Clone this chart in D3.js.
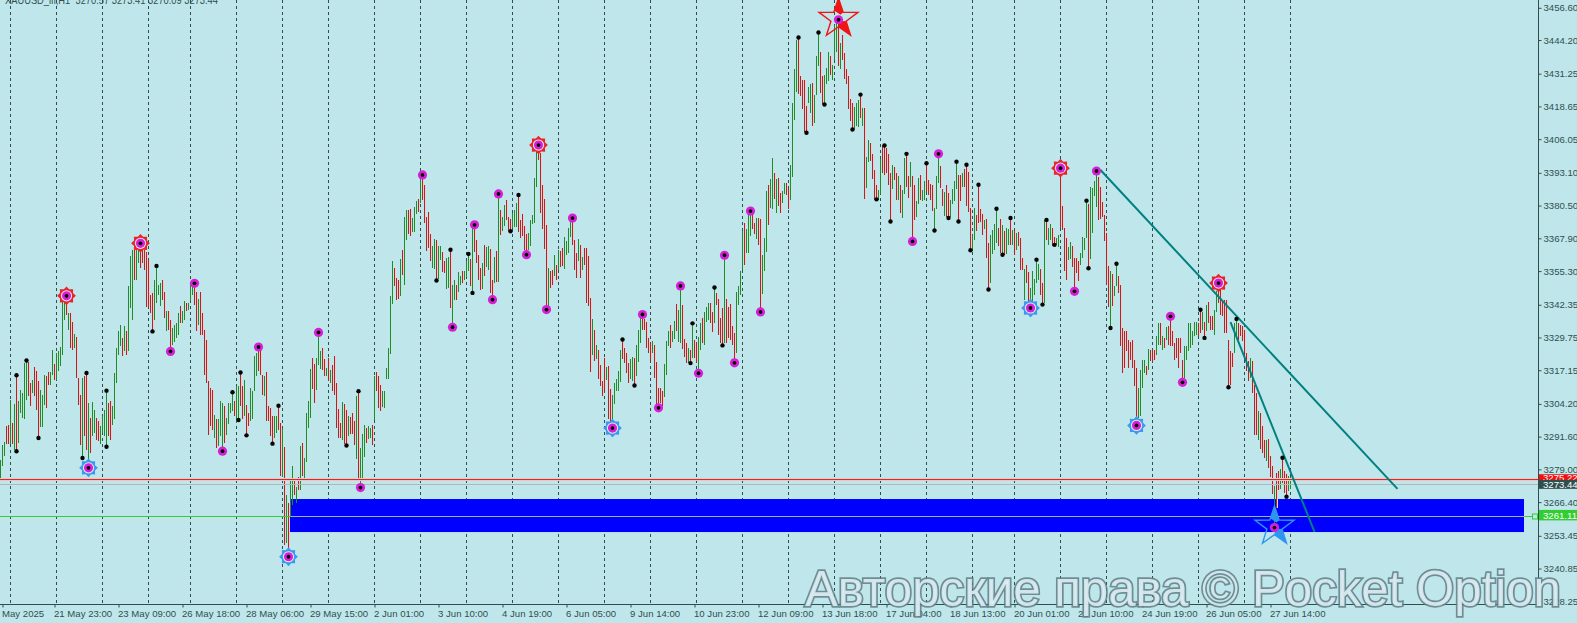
<!DOCTYPE html>
<html><head><meta charset="utf-8">
<script src="https://cdn.jsdelivr.net/npm/d3@7"></script>
<style>html,body{margin:0;padding:0;background:#bfe7eb;overflow:hidden}svg{display:block}</style>
</head><body><svg id="c" width="1577" height="623"></svg>
<script>
const highs=[
3282.8,3288.2,3289.7,3295.6,3295.9,3305.8,3296.9,3304.3,3315.2,3305.2,
3309.7,3308.4,3319.9,3320.9,3320.3,3312.2,3313.5,3318.4,3316.7,3312.9,
3309.7,3307.8,3315.4,3314.8,3316.5,3316.5,3325,3319.7,3323.8,3324.4,
3326.1,3343.6,3345.5,3345.8,3339.1,3339.1,3335.9,3331.2,3329.9,3314.2,
3307.8,3314.2,3314.8,3316.1,3304.6,3298.8,3304.8,3302,3298.8,3297.5,
3295.6,3299.4,3302,3309.3,3304.6,3305.2,3303.3,3316.1,3325.7,3332.1,
3334.6,3329.5,3334.3,3332.1,3349.4,3361,3363.4,3363.4,3365.3,3366,
3366,3364.3,3363.4,3362.6,3359.6,3346.2,3346.8,3351.9,3357.3,3350,
3350.6,3351.9,3347.4,3339.8,3339.8,3336.6,3333.4,3334.6,3335.3,3339.1,
3341.7,3339.8,3343.6,3343.2,3343,3350,3351.3,3350.6,3347.4,3344.5,
3347.4,3339.1,3332.7,3328.9,3312.9,3310.3,3309.7,3300.1,3298.2,3298.2,
3305.2,3304.6,3303.3,3298.8,3304.6,3304.6,3308.7,3305.2,3311,3311,
3316.3,3311,3313.5,3303.9,3300.7,3310.3,3309,3322.5,3323.8,3326.1,
3325,3315.2,3314.8,3316.3,3303.3,3302.6,3299.4,3299.4,3299.4,3303.5,
3296.9,3294.6,3287.7,3269.1,3266,3274.9,3280.3,3274.9,3272.3,3276.1,
3288,3289.2,3283.5,3300.8,3305.5,3317.7,3321.9,3319.7,3321.9,3331.7,
3324.7,3325.7,3321.5,3318,3321.9,3317.4,3319,3322.5,3312.3,3302.3,
3296.9,3304.9,3304,3301.8,3299.5,3299.2,3300.8,3297.6,3307.2,3309.1,
3287.3,3292.8,3295.9,3295,3295.6,3295,3295.9,3315.1,3316.4,3315.1,
3311.6,3309.1,3309.1,3318,3325.7,3345.6,3359,3356.4,3352.6,3352,
3359.9,3363.5,3376.3,3378.9,3378.9,3379.1,3375.6,3380.1,3382.4,3383,
3392.3,3392.3,3388.4,3376.3,3378.2,3369.6,3365,3367.6,3367.1,3364.8,
3365,3362.8,3359,3360.3,3360.9,3363.5,3350,3351.7,3350,3354.8,
3353.5,3355.5,3355.5,3359,3361.9,3359.9,3373.1,3373.1,3367.3,3361.6,
3356.5,3358.4,3365.4,3364.5,3365,3363.8,3352,3360.9,3362.9,3385,
3378.9,3376,3380.8,3382.5,3376,3375.3,3377.6,3378.9,3381.4,3384.6,
3375,3377.3,3372.5,3369.7,3369.9,3374.8,3377,3391,3401.3,3403.8,
3400.6,3388.5,3383,3373.1,3356.5,3355.2,3355.8,3361.6,3357.8,3363.5,
3362.9,3364.2,3368.4,3366.7,3371.8,3375,3375.7,3367.1,3362.2,3367.6,
3365.4,3360.7,3364.2,3364.2,3361,3345,3336.9,3332.8,3327,3325.1,
3319,3313,3321.9,3318.5,3318.7,3309.8,3307.8,3312.3,3313.6,3316.8,
3325.1,3329,3325.8,3323.6,3320,3321.5,3322.3,3321.9,3327,3332.8,
3337.3,3338.6,3336.9,3335.6,3329.6,3327.7,3328.3,3327,3320.3,3310.4,
3310.4,3309.1,3319.4,3328.3,3332.2,3334.7,3332.2,3336,3342.8,3340.5,
3349.6,3342.3,3329.2,3327.6,3325.6,3325,3335.2,3328.8,3327.6,3330.1,
3335.2,3337.2,3339.7,3341.6,3342.9,3342.9,3339.7,3349,3346.8,3344.6,
3337.2,3341,3361.4,3344.6,3341.3,3342.5,3334.3,3331.4,3347.2,3349.6,
3355.4,3370.7,3373.7,3371.4,3376.7,3378.4,3376.7,3373.9,3375.9,3375.9,
3375.5,3361.4,3368.2,3386.1,3388.6,3390.6,3398.9,3393.1,3390.6,3391.2,
3385.4,3386.1,3389.3,3389,3386.7,3396.3,3420,3433,3444.3,3445.2,
3430.5,3429,3428.7,3419,3426.2,3427.1,3427.7,3423.2,3438.2,3447.1,
3439.5,3430.5,3430.9,3433.4,3439.5,3438.2,3434.7,3450.1,3452,3452,
3443,3446.2,3439.2,3433.1,3430.5,3421.5,3419.8,3418.5,3419.8,3421.3,
3423.2,3418.1,3418.1,3399.2,3405.8,3404.7,3400.4,3394.2,3388.5,3386.6,
3398.3,3403.8,3403.6,3402.6,3400.4,3393,3396.2,3395.3,3393,3391.9,
3388.5,3386.6,3398.7,3400.4,3391.7,3397.4,3391.9,3388.5,3382.1,3391,
3392.3,3386.6,3389.8,3396.8,3390.4,3388.9,3388.5,3379.5,3391.7,3400.4,
3395.8,3386.8,3385.9,3388.5,3385.5,3382.5,3386.8,3389.8,3397.4,3392.3,
3392.3,3393,3394.5,3396.2,3393.6,3379.5,3369.3,3379.5,3377,3388.5,
3379.1,3377.3,3375,3375.3,3366.1,3369.3,3371.2,3373.5,3379.3,3371.8,
3375.3,3373.1,3370.6,3371.8,3371.5,3375.7,3371.2,3370.6,3369.9,3370.2,
3368,3360.3,3356.1,3357.8,3354.8,3348.8,3355.2,3352.3,3359.7,3358.1,
3356.1,3350.7,3375,3375,3371.8,3373.5,3371.8,3368.6,3368,3369.3,
3394.9,3380.4,3371.8,3367.9,3364.5,3366.3,3364.8,3360.3,3360.3,3359,
3362.2,3368.6,3367.9,3382.4,3381.2,3387.6,3387.2,3390.1,3393.8,3391.4,
3387.8,3382,3376.9,3370.1,3357.3,3355.2,3354.3,3349.7,3358.1,3353.5,
3350,3333.4,3332.1,3332.1,3328.9,3327.9,3328.9,3321.2,3318,3310.4,
3317.4,3321.2,3321.2,3318.9,3325.3,3325.1,3325.1,3325.1,3330.2,3335.3,
3335.3,3330.2,3329.6,3333.8,3334,3337.9,3332.1,3327.6,3329.6,3329.6,
3329.6,3321.2,3326.4,3326.4,3335.3,3335.3,3332.1,3335.9,3335.9,3335.3,
3340.4,3339.4,3335.9,3342.4,3343.3,3337.9,3338,3340.4,3347.5,3350.7,
3348.8,3344.3,3344.3,3344,3328.9,3324.4,3323.8,3335.3,3336.9,3335.3,
3334.7,3334,3332.1,3323.8,3320.6,3321.9,3320.6,3311.6,3308.5,3301.4,
3300.8,3295.7,3290.5,3290.5,3290.8,3284.1,3280.3,3272.6,3277.7,3278.4,
3279,3283.5,3278.4,3277.1,3276.5,3276];
const lows=[
3275.1,3280.2,3284.1,3288.6,3288.8,3288.6,3288.6,3286.6,3286,3289.2,
3300.7,3298.8,3298.2,3305.8,3307.4,3303.5,3308.4,3307.1,3302,3291.1,
3295.2,3295.2,3303.9,3302.6,3311.6,3311.6,3315.4,3313.5,3313.5,3317,
3318.6,3323.1,3336.3,3338.5,3332.5,3325.7,3324.8,3325.7,3314.2,3303.9,
3288.2,3283.4,3291.8,3286.6,3279.6,3285.4,3291.8,3293,3290.5,3289.8,
3288.9,3293,3291.8,3287.7,3291.8,3290.5,3296.2,3298.2,3312.2,3323.1,
3326.3,3322.5,3324.4,3323.1,3324.4,3341,3336.6,3351.9,3351.9,3358.5,
3356.5,3358.5,3355.7,3341.5,3341.3,3339.1,3332.1,3336.6,3343,3346.2,
3341.7,3344.2,3337.2,3332.1,3332.7,3324.4,3327,3328.2,3329.5,3330.8,
3335.3,3335.5,3336.6,3339.8,3340.4,3343.6,3346.2,3342.3,3332.1,3334.6,
3330.8,3330.8,3315.4,3312.2,3292.4,3295.6,3294.3,3291.1,3287.3,3287.9,
3291.8,3286,3289.2,3292.4,3296.6,3300.7,3301.4,3299.4,3296.9,3298,
3303.3,3298.2,3299.4,3292.1,3295.6,3297.5,3298.2,3309,3315,3316.7,
3315.4,3307.8,3307.1,3297.5,3297.5,3291.8,3288.9,3291.1,3293,3294.3,
3276.4,3276,3249.9,3250.7,3245.4,3260.7,3265.3,3269.1,3266,3271,
3271,3276.4,3275.8,3281.8,3295,3298.9,3310,3304.4,3309.7,3319.3,
3317.7,3317.4,3315.1,3314.8,3312.9,3312.3,3309.1,3307.8,3295,3291.2,
3291.2,3290.5,3288.6,3288.2,3291.8,3292.5,3292.5,3288.2,3282.9,3275.4,
3272,3275.8,3283.9,3289.2,3290.8,3291.2,3288.2,3298,3309.1,3302.7,
3301.4,3303.1,3302.7,3313.6,3313.8,3323.5,3342.8,3349.7,3344.3,3344.5,
3345.8,3353.9,3350,3367.3,3369.6,3368.9,3370.5,3370.5,3377.3,3378.2,
3381.4,3382.7,3373.7,3363.2,3364.1,3359,3356.4,3356.1,3351.7,3352.2,
3359.4,3354.8,3354.5,3348.4,3348.8,3341.1,3333.7,3344,3344.3,3347.1,
3350,3350.7,3352,3353.2,3355.2,3349.4,3346.9,3362.5,3358.4,3352,
3347.9,3348.4,3353.3,3356.9,3355.8,3346.9,3344.3,3350.7,3351,3351,
3369.3,3370.6,3372.5,3374.8,3370.6,3370.6,3371.8,3372.2,3372.2,3370.2,
3368,3368.9,3363.3,3361.6,3363.5,3365,3373.5,3373.8,3387.8,3398,
3377.6,3371.5,3363.8,3340.5,3341.1,3348.8,3350.1,3353.3,3351.7,3355.8,
3356.9,3357.1,3356.1,3361.6,3362.2,3368.6,3365.4,3355.8,3352.6,3359,
3352.6,3355.6,3357.8,3343,3342,3316.4,3323.2,3320.6,3321.3,3313.6,
3311,3307.2,3309.1,3313.3,3298.2,3297,3294.9,3304,3309.1,3309.1,
3312.6,3321.3,3320,3316.2,3312.3,3313.6,3313,3311.3,3314.9,3320.3,
3327.7,3332.8,3332.8,3325.8,3323.8,3321,3323.6,3314.2,3302.7,3302.7,
3304.6,3303.4,3306.9,3315.5,3326.4,3325.8,3327.9,3329,3332.2,3327.9,
3327.6,3325.4,3322.4,3319.9,3319.9,3319.9,3321.8,3321.8,3320.5,3316,
3325,3327.6,3326.9,3335.9,3336.5,3335.2,3332,3335.2,3342.3,3330.8,
3327.6,3326.7,3327.6,3327.6,3329.5,3328.8,3326.9,3320,3323.7,3342.2,
3346,3355.7,3357.5,3362.4,3362.4,3368.8,3371.4,3369.4,3367.5,3365.2,
3339.6,3346.4,3355.4,3362.7,3372.9,3379.7,3379.3,3382.9,3377.5,3380.3,
3377.8,3381.6,3384.8,3384.4,3379,3382.6,3391.5,3413.6,3424.1,3423.6,
3422.6,3417.7,3408.7,3408.5,3419.8,3416.2,3411.3,3412.3,3423.2,3434.1,
3423.9,3419.4,3419.4,3427.4,3428.3,3430.9,3428.7,3436.7,3439.5,3434.1,
3433.1,3436.7,3429.2,3427.1,3417.7,3413,3409.8,3409.8,3411,3410.8,
3414.2,3411,3383.1,3387.3,3397.2,3397.6,3390.9,3383.2,3382.9,3382.8,
3385,3393,3392.3,3393,3388.5,3374.4,3386.8,3390.4,3382.7,3382.7,
3377.6,3375.7,3385,3387.8,3383.4,3387.8,3366.7,3375,3376.1,3381.2,
3382.5,3382.1,3382.7,3385.9,3384.6,3382.7,3378.6,3370.9,3379.1,3389.1,
3387.2,3380.2,3376.6,3376.1,3375.7,3376.1,3381.2,3382.1,3386.8,3374.4,
3382.1,3387.8,3387.6,3380.2,3378.2,3363.3,3362.9,3367.1,3370.6,3373.8,
3374,3369.3,3371.5,3360.3,3348.2,3350.7,3362,3363.3,3366.1,3364.8,
3362.2,3361.6,3361.6,3362,3365.4,3365.4,3365.4,3361.6,3363.5,3364.8,
3355.8,3355.8,3344.3,3350.7,3343,3341.1,3343,3346.2,3350.7,3352,
3346.2,3342.4,3343,3367.4,3365.4,3367.4,3365,3365.4,3365.4,3364.5,
3371.8,3371.2,3355.2,3351.7,3359.6,3359.9,3356.8,3347.5,3354.5,3351.3,
3357.7,3360.3,3363.5,3367.9,3356.4,3359.9,3369.9,3384.2,3380.1,3375,
3375.3,3376.3,3366.7,3350,3341.5,3333.4,3342,3345.6,3349.4,3346.9,
3326.4,3316.1,3318,3324.4,3318,3321.2,3318,3311,3295.9,3298.8,
3299.5,3310.4,3316.1,3315.5,3317.2,3320.6,3320.6,3321.2,3323.2,3327,
3327,3325.1,3325.7,3328.9,3327,3326.6,3326.4,3321.2,3321.9,3318,
3323.8,3312.5,3314.2,3321.2,3324.4,3325.7,3327,3330.2,3330.8,3330.2,
3331.5,3332.8,3329.6,3332.1,3335.3,3332.8,3332.8,3330.8,3339.4,3343,
3338.5,3337.9,3331.5,3331.5,3310.6,3311.6,3318.4,3323.8,3330.2,3328.9,
3330.2,3328.3,3321.2,3316.8,3312.9,3314.2,3308.5,3292.4,3292.4,3290.5,
3286.7,3285.4,3283.5,3282.2,3279.6,3276.2,3269.4,3256.6,3264.3,3271,
3271.3,3273.9,3270,3268.5,3270.7,3271.5];
const dirs=[
"GGGRRGRGRG","GGGGRRGRRR","GGGRRGGRGG","GGGRGRRGRR","RGRRGRGGRR","GGGGRRGGGG","GRGRGGGRGG","RRRRRRRGGG",
"GRRGRRGGGG","RGGRGGGRRG","RRRRRRRGRG","GGRGGGGRGG","RRGRRGGGGR","RRGRRRRGGR","RGRGRGGRGR","GRGGGGRRGG",
"GRRGRGRRRR","RGRRGRRRGR","GGGRGGRGRR","RGGGGGGRRR","GRGGRRGGGR","GRRRRRGGRG","GRRGGRGGRG","GRGGGRGRRR",
"RGRGGRRGRG","RGGRRRGGGR","RRRRGGGGGR","RRRRGRRGRG","RRGGGGRRRG","RGRRRRGRGR","RRRGRRGGGG","GRRRRGGRGG",
"GRRRRRGRRR","RRGGGRGGRG","GRRRGRGRRG","GRGGGRRGRR","RRGRRRRRGG","GGRGGGRRGR","RGGGRGGRGR","RGGRRGGGGR",
"RRRRGGRGGG","RRGGGRGGGR","GRRRRRRGGG","RGRGGRRRRG","GRRRRRGRRG","RGGRRGRRGG","RGGRRRRGGG","RRGRRGGGGR",
"RGRRRRGGRR","RRGRRGGGGR","RGRGGRGRGR","RRGRRGGGGG","RRGRGGRRGG","RRRRGGRRRR","GGGGRGGGGR","RRRRRGRGGR",
"RRRRRRRRRG","GGGRGRRRGG","RGRGRRRRRR","RRGGGGGGGR","RGRGRRRGGR","RRRRRRRGGR","RRRRRGRRRG","RRRGRRRGRR",
"GRRRGG"].join("");

const priceTicks=[3456.60,3444.20,3431.25,3418.65,3406.05,3393.10,3380.50,3367.90,3355.30,3342.35,3329.75,3317.15,3304.20,3291.60,3279.00,3266.40,3253.45,3240.85,3228.25];
const timeTickIdx=[1,27,59,91,123,155,187,219,251,283,315,347,379,411,443,475,507,539,571,603,635];
const timeLabels=["May 2025","21 May 23:00","23 May 09:00","26 May 18:00","28 May 06:00","29 May 15:00","2 Jun 01:00","3 Jun 10:00","4 Jun 19:00","6 Jun 05:00","9 Jun 14:00","10 Jun 23:00","12 Jun 09:00","13 Jun 18:00","17 Jun 04:00","18 Jun 13:00","20 Jun 01:00","23 Jun 10:00","24 Jun 19:00","26 Jun 05:00","27 Jun 14:00"];
const gridIdx=[5,28,51,74,95,118,141,164,187,210,233,256,279,302,325,348,371,394,417,440,463,486,507,530,553,576,599,622,645];

const blackHigh=[8,13,43,53,78,116,120,139,179,225,234,259,311,346,357,399,409,430,442,453,463,478,483,489,498,505,518,523,543,558,600,618,641];
const blackLow=[8,19,41,53,76,119,123,136,173,218,236,255,317,345,361,403,412,426,438,445,467,474,479,485,494,501,521,527,544,555,602,614,643];
const magentaHigh=[97,129,159,211,237,249,286,321,340,362,375,469,548,585];
const magentaLow=[85,111,180,226,246,263,273,329,349,367,380,456,537,591];
const redSunHigh=[33,70,269,419,530,609];
const blueSunLow=[44,144,306,515,568];
const redStarBar=419, blueStarBar=637;

const zoneBars=[145,762], zonePrices=[3267.6,3254.9];
const sellLine=3275.22, bidLine=3273.44, greenLine=3261.11;
const trendA=[[550,3394.2],[698.5,3271.5]], trendB=[[615,3335.7],[657,3255]];
const titleText="XAUUSD_ifi,H1  3270.57 3273.41 3270.09 3273.44";
const wmText="Авторские права © Pocket Option";

const W=1577,H=623,axisX=1538,axisY=604;
const FONT="'Liberation Sans',sans-serif", INK="#2f4f4f";
const x=d3.scaleLinear().domain([0,645]).range([0.5,1290.5]);
const y=d3.scaleLinear().domain([3228.25,3456.6]).range([601.3,7.8]);
const svg=d3.select("#c").style("font-family",FONT);
svg.append("rect").attr("width",W).attr("height",H).attr("fill","#bfe7eb");

// grid
svg.append("g").selectAll("line").data(gridIdx).join("line")
 .attr("x1",x).attr("x2",x).attr("y1",0).attr("y2",axisY)
 .attr("stroke",INK).attr("stroke-dasharray","3,3").attr("shape-rendering","crispEdges");

// demand zone
svg.append("rect").attr("x",x(zoneBars[0])-.5).attr("width",x(zoneBars[1])-x(zoneBars[0]))
 .attr("y",y(zonePrices[0])).attr("height",y(zonePrices[1])-y(zonePrices[0])).attr("fill","#0000ff");

// bars (red bars carry the pale fringe seen in the reference)
const bars=highs.map((h,i)=>({i,h,l:lows[i],up:dirs[i]==="G"}));
svg.append("g").selectAll("line").data(bars.filter(d=>!d.up)).join("line")
 .attr("x1",d=>x(d.i)+1).attr("x2",d=>x(d.i)+1).attr("y1",d=>Math.round(y(d.h))).attr("y2",d=>Math.round(y(d.l)))
 .attr("stroke","#e9cdd0").attr("shape-rendering","crispEdges");
svg.append("g").selectAll("line").data(bars).join("line")
 .attr("x1",d=>x(d.i)).attr("x2",d=>x(d.i)).attr("y1",d=>Math.round(y(d.h))).attr("y2",d=>Math.round(y(d.l)))
 .attr("stroke",d=>d.up?"#228b22":"#a52a2a").attr("shape-rendering","crispEdges");

// horizontal lines
function hline(p,c,x2,x1,dy){const v=Math.round(y(p))+.5+(dy||0);svg.append("line").attr("x1",x1||0).attr("x2",x2).attr("y1",v).attr("y2",v).attr("stroke",c).attr("shape-rendering","crispEdges");}
hline(sellLine,"#ecc4c6",axisX,0,-1);
hline(sellLine,"#ecc4c6",axisX,0,1);
hline(sellLine,"#cf2c2c",axisX);
hline(bidLine,"#aeb9bb",axisX);
hline(greenLine,"#32cd32",1534);
hline(greenLine,"#9fb1bd",x(zoneBars[1]),x(zoneBars[0]));
svg.append("rect").attr("x",1532.5).attr("y",Math.round(y(greenLine))-2).attr("width",5).attr("height",5).attr("fill","#bfe7eb").attr("stroke","#32cd32");

// trend lines
[trendA,trendB].forEach(t=>svg.append("line").attr("x1",x(t[0][0])).attr("y1",y(t[0][1])).attr("x2",x(t[1][0])).attr("y2",y(t[1][1])).attr("stroke","#008080").attr("stroke-width",2));

// sun rings
const sun=d3.lineRadial().curve(d3.curveLinearClosed);
function sunAt(i,p,col){
 const g=svg.append("g").attr("transform",`translate(${x(i)},${y(p)})`);
 const pts=d3.range(16).map(k=>[k*Math.PI/8,k%2?7:9.4]);
 g.append("path").attr("d",sun(pts)).attr("fill",col);
 g.append("circle").attr("r",5.6).attr("fill","#f1e9f3");
}
redSunHigh.filter(i=>i!==redStarBar).forEach(i=>sunAt(i,highs[i],"#e8262a"));
blueSunLow.forEach(i=>sunAt(i,lows[i],"#3a9af0"));

// stars
function star(cx,cy,col){
 const R=20.5,r=8;
 const pt=(k)=>{const a=k*Math.PI/5,rad=k%2?r:R;return [cx+rad*Math.sin(a),cy-rad*Math.cos(a)];};
 const g=svg.append("g");
 g.append("path").attr("d",d3.line()(d3.range(10).map(pt))+"Z").attr("fill","none").attr("stroke",col).attr("stroke-width",1.4);
 g.append("path").attr("d",d3.line()([pt(0),pt(1),[cx+2,cy-4],[cx-4,cy-8]])+"Z").attr("fill",col);
 g.append("path").attr("d",d3.line()([pt(4),pt(3),[cx+1,cy+2],pt(5)])+"Z").attr("fill",col);
}
star(x(redStarBar),y(highs[redStarBar])-1,"#f01414");
star(x(blueStarBar),y(lows[blueStarBar])-1,"#2e96f2");

// fractal dots
function dot(cx,cy,mag){
 if(mag) svg.append("circle").attr("cx",cx).attr("cy",cy).attr("r",4.6).attr("fill","#d61fd6");
 svg.append("circle").attr("cx",cx).attr("cy",cy).attr("r",mag?1.9:2.2).attr("fill","#050505");
}
blackHigh.forEach(i=>dot(x(i),y(highs[i]),false));
blackLow.forEach(i=>dot(x(i),y(lows[i]),false));
magentaHigh.concat(redSunHigh).forEach(i=>dot(x(i),y(highs[i]),true));
magentaLow.concat(blueSunLow,[blueStarBar]).forEach(i=>dot(x(i),y(lows[i]),true));

// title
svg.append("text").attr("x",5).attr("y",4).attr("fill",INK).attr("font-size",10.5)
 .attr("textLength",213).attr("lengthAdjust","spacingAndGlyphs").style("white-space","pre").text(titleText);

// axes
const ay=d3.axisRight(y).tickValues(priceTicks).tickFormat(d3.format(".2f")).tickSize(3).tickPadding(2);
const gy=svg.append("g").attr("transform",`translate(${axisX+.5},0)`).call(ay);
gy.select(".domain").attr("d",`M0,0V${axisY}`).attr("stroke",INK);
gy.selectAll("line").attr("stroke",INK);
gy.selectAll("text").attr("fill",INK).attr("font-size",9.6).attr("font-family",FONT);
const ax=d3.axisBottom(x).tickValues(timeTickIdx).tickFormat((d,i)=>timeLabels[i]).tickSize(3).tickPadding(3);
const gx=svg.append("g").attr("transform",`translate(0,${axisY+.5})`).call(ax);
gx.select(".domain").attr("d",`M0,0H${axisX}`).attr("stroke",INK);
gx.selectAll("line").attr("stroke",INK);
gx.selectAll("text").attr("fill",INK).attr("font-size",9.6).attr("font-family",FONT).attr("text-anchor","start").attr("dx",-1);

// price tags
function tag(yTop,h,fill,txt){
 svg.append("rect").attr("x",axisX+1).attr("y",yTop).attr("width",W-axisX).attr("height",h).attr("fill",fill);
 svg.append("text").attr("x",1543).attr("y",yTop+h/2+3.4).attr("fill","#fff").attr("font-size",9.6).text(txt);
}
tag(y(sellLine)-5,7,"#f01010","3275.22");
tag(y(bidLine)-4,9,INK,"3273.44");
tag(y(greenLine)-6,10.5,"#32cd32","3261.11");

// watermark
const defs=svg.append("defs");
defs.append("filter").attr("id","b").append("feGaussianBlur").attr("stdDeviation",.6);
const wm=svg.append("g").attr("filter","url(#b)").attr("font-size",49.2).attr("font-family",FONT);
wm.append("text").attr("x",805).attr("y",606).attr("fill","none").attr("stroke","#5f7f88").attr("stroke-width",3.4).attr("stroke-opacity",.85).text(wmText);
wm.append("text").attr("x",805).attr("y",606).attr("fill","#dff0f4").attr("fill-opacity",.9).text(wmText);
</script></body></html>
